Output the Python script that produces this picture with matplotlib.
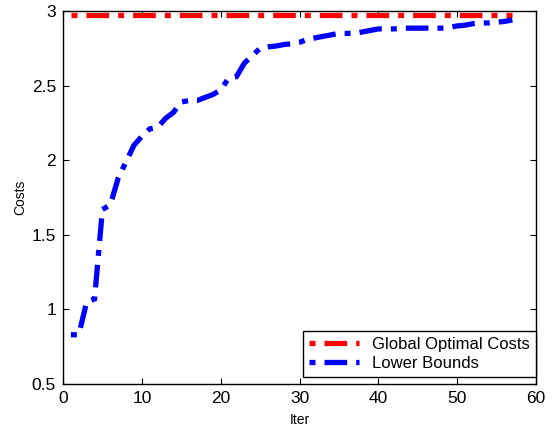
import matplotlib
matplotlib.use("Agg")
import matplotlib.pyplot as plt
from matplotlib.ticker import FuncFormatter

plt.rcParams["font.family"] = ["Liberation Sans", "DejaVu Sans"]
plt.rcParams["lines.scale_dashes"] = False

# lower bound per iteration
iters = list(range(1, 58))
lower_bounds = [
    0.83, 0.83, 1.05, 1.07, 1.67, 1.70, 1.88, 1.99, 2.10, 2.16,
    2.21, 2.22, 2.28, 2.32, 2.39, 2.40, 2.40, 2.42, 2.44, 2.47,
    2.55, 2.56, 2.65, 2.70, 2.75, 2.76, 2.765, 2.775, 2.78, 2.79,
    2.81, 2.82, 2.83, 2.84, 2.85, 2.85, 2.85, 2.86, 2.87, 2.88,
    2.88, 2.88, 2.885, 2.885, 2.885, 2.885, 2.885, 2.885, 2.89, 2.90,
    2.905, 2.915, 2.92, 2.92, 2.925, 2.93, 2.94,
]
global_opt = [2.97] * len(iters)

xticks = [0, 10, 20, 30, 40, 50, 60]
yticks = [0.5, 1, 1.5, 2, 2.5, 3]

# dot, gap, dash, gap (points)
dashdot = (0, (4.3, 6.5, 16.3, 6.5))

fig = plt.figure(figsize=(5.59, 4.28), dpi=100)
ax = fig.add_axes([0.1127, 0.1028, 0.8462, 0.8715])

ax.plot(iters, global_opt, color="red", lw=3.8, linestyle=dashdot,
        dash_capstyle="butt", label="Global Optimal Costs")
ax.plot(iters, lower_bounds, color="blue", lw=3.8, linestyle=dashdot,
        dash_capstyle="butt", dash_joinstyle="miter", label="Lower Bounds")

ax.set_xlim(0, 60)
ax.set_ylim(0.5, 3)
ax.set_xticks(xticks)
ax.set_yticks(yticks)
ax.yaxis.set_major_formatter(FuncFormatter(lambda v, p: "%g" % v))
ax.tick_params(direction="in", top=True, right=True, length=4, width=0.8,
               labelsize=12.5, pad=5)
for s in ax.spines.values():
    s.set_linewidth(1.0)

ax.set_xlabel("Iter", fontsize=10, labelpad=5)
ax.set_ylabel("Costs", fontsize=10, labelpad=3.5)

leg = ax.legend(loc="lower right", bbox_to_anchor=(1.0, 0.019), fontsize=12,
                fancybox=False, framealpha=1, edgecolor="black",
                borderaxespad=0, handlelength=3.0, borderpad=0.35,
                labelspacing=0.27, handletextpad=0.8)
leg.get_frame().set_linewidth(1.0)

fig.savefig("out.png", dpi=100)
